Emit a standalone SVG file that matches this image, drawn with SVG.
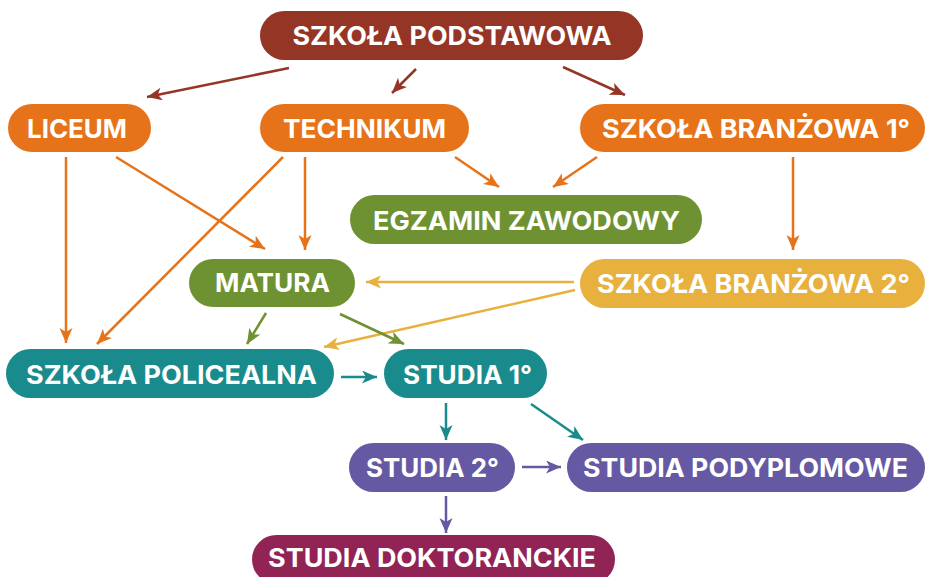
<svg xmlns="http://www.w3.org/2000/svg" width="926" height="577" viewBox="0 0 926 577">
<style>
.n text{font-family:Inter,"Liberation Sans",sans-serif;font-weight:700;font-size:26px;fill:#fff;text-anchor:middle}
.c line{stroke-width:2.5;fill:none}
.br{stroke:#943526}.or{stroke:#E67319}.ye{stroke:#E8B03D}.gr{stroke:#6E9231}.te{stroke:#1A8B8C}.pu{stroke:#6659A3}
</style>
<defs>
<marker id="mbr" markerUnits="userSpaceOnUse" markerWidth="16" markerHeight="14" refX="15" refY="6.5" orient="auto"><path d="M0,0 L15,6.5 L0,13 L4,6.5 Z" fill="#943526"/></marker>
<marker id="mor" markerUnits="userSpaceOnUse" markerWidth="16" markerHeight="14" refX="15" refY="6.5" orient="auto"><path d="M0,0 L15,6.5 L0,13 L4,6.5 Z" fill="#E67319"/></marker>
<marker id="mye" markerUnits="userSpaceOnUse" markerWidth="16" markerHeight="14" refX="15" refY="6.5" orient="auto"><path d="M0,0 L15,6.5 L0,13 L4,6.5 Z" fill="#E8B03D"/></marker>
<marker id="mgr" markerUnits="userSpaceOnUse" markerWidth="16" markerHeight="14" refX="15" refY="6.5" orient="auto"><path d="M0,0 L15,6.5 L0,13 L4,6.5 Z" fill="#6E9231"/></marker>
<marker id="mte" markerUnits="userSpaceOnUse" markerWidth="16" markerHeight="14" refX="15" refY="6.5" orient="auto"><path d="M0,0 L15,6.5 L0,13 L4,6.5 Z" fill="#1A8B8C"/></marker>
<marker id="mpu" markerUnits="userSpaceOnUse" markerWidth="16" markerHeight="14" refX="15" refY="6.5" orient="auto"><path d="M0,0 L15,6.5 L0,13 L4,6.5 Z" fill="#6659A3"/></marker>
</defs>
<rect width="926" height="577" fill="#fff"/>
<g id="connectors" class="c">
<line class="br" x1="289" y1="68" x2="147" y2="97" marker-end="url(#mbr)"/>
<line class="br" x1="416" y1="69" x2="392" y2="93" marker-end="url(#mbr)"/>
<line class="br" x1="563" y1="67" x2="625" y2="95" marker-end="url(#mbr)"/>
<line class="or" x1="66" y1="157" x2="66" y2="343" marker-end="url(#mor)"/>
<line class="or" x1="116" y1="157" x2="265" y2="249" marker-end="url(#mor)"/>
<line class="or" x1="283" y1="157" x2="97" y2="344" marker-end="url(#mor)"/>
<line class="or" x1="305" y1="157" x2="305" y2="250" marker-end="url(#mor)"/>
<line class="or" x1="455" y1="157" x2="499" y2="187" marker-end="url(#mor)"/>
<line class="or" x1="597" y1="157" x2="553" y2="187" marker-end="url(#mor)"/>
<line class="or" x1="793" y1="157" x2="793" y2="250" marker-end="url(#mor)"/>
<line class="ye" x1="574" y1="282" x2="366" y2="282" marker-end="url(#mye)"/>
<line class="ye" x1="575" y1="290" x2="324" y2="347" marker-end="url(#mye)"/>
<line class="gr" x1="266" y1="313" x2="247" y2="344" marker-end="url(#mgr)"/>
<line class="gr" x1="340" y1="314" x2="404" y2="344" marker-end="url(#mgr)"/>
<line class="te" x1="341" y1="377" x2="377" y2="377" marker-end="url(#mte)"/>
<line class="te" x1="446" y1="403" x2="446" y2="440" marker-end="url(#mte)"/>
<line class="te" x1="531" y1="404" x2="583" y2="440" marker-end="url(#mte)"/>
<line class="pu" x1="522" y1="467" x2="561" y2="467" marker-end="url(#mpu)"/>
<line class="pu" x1="446" y1="496" x2="446" y2="533" marker-end="url(#mpu)"/>
</g>
<g id="podstawowa" class="n"><rect x="260" y="11" width="383" height="49" rx="24.5" fill="#943526"/><text x="452" y="45" textLength="319" lengthAdjust="spacingAndGlyphs">SZKOŁA PODSTAWOWA</text></g>
<g id="liceum" class="n"><rect x="8" y="104" width="143" height="48" rx="24" fill="#E67319"/><text x="77" y="138" textLength="100" lengthAdjust="spacingAndGlyphs">LICEUM</text></g>
<g id="technikum" class="n"><rect x="260" y="104" width="209" height="48" rx="24" fill="#E67319"/><text x="364.5" y="138" textLength="163" lengthAdjust="spacingAndGlyphs">TECHNIKUM</text></g>
<g id="branzowa1" class="n"><rect x="580" y="104" width="345" height="48" rx="24" fill="#E67319"/><text x="756" y="138" textLength="308" lengthAdjust="spacingAndGlyphs">SZKOŁA BRANŻOWA 1°</text></g>
<g id="egzamin" class="n"><rect x="350" y="195" width="352" height="49" rx="24.5" fill="#6E9231"/><text x="526.5" y="230" textLength="307" lengthAdjust="spacingAndGlyphs">EGZAMIN ZAWODOWY</text></g>
<g id="matura" class="n"><rect x="189" y="259" width="166" height="48" rx="24" fill="#6E9231"/><text x="272.5" y="292" textLength="115" lengthAdjust="spacingAndGlyphs">MATURA</text></g>
<g id="branzowa2" class="n"><rect x="580" y="259" width="345" height="49" rx="24.5" fill="#E8B03D"/><text x="753.5" y="293" textLength="313" lengthAdjust="spacingAndGlyphs">SZKOŁA BRANŻOWA 2°</text></g>
<g id="policealna" class="n"><rect x="6" y="349" width="328" height="49" rx="24.5" fill="#1A8B8C"/><text x="171.5" y="384" textLength="291" lengthAdjust="spacingAndGlyphs">SZKOŁA POLICEALNA</text></g>
<g id="studia1" class="n"><rect x="384" y="349" width="163" height="49" rx="24.5" fill="#1A8B8C"/><text x="467.5" y="384" textLength="129" lengthAdjust="spacingAndGlyphs">STUDIA 1°</text></g>
<g id="studia2" class="n"><rect x="349" y="443" width="166" height="49" rx="24.5" fill="#6659A3"/><text x="432.5" y="477" textLength="133" lengthAdjust="spacingAndGlyphs">STUDIA 2°</text></g>
<g id="podyplomowe" class="n"><rect x="567" y="443" width="358" height="49" rx="24.5" fill="#6659A3"/><text x="745.5" y="477" textLength="325" lengthAdjust="spacingAndGlyphs">STUDIA PODYPLOMOWE</text></g>
<g id="doktoranckie" class="n"><rect x="252" y="535" width="363" height="49" rx="24.5" fill="#922355"/><text x="432" y="567" textLength="328" lengthAdjust="spacingAndGlyphs">STUDIA DOKTORANCKIE</text></g>
</svg>
